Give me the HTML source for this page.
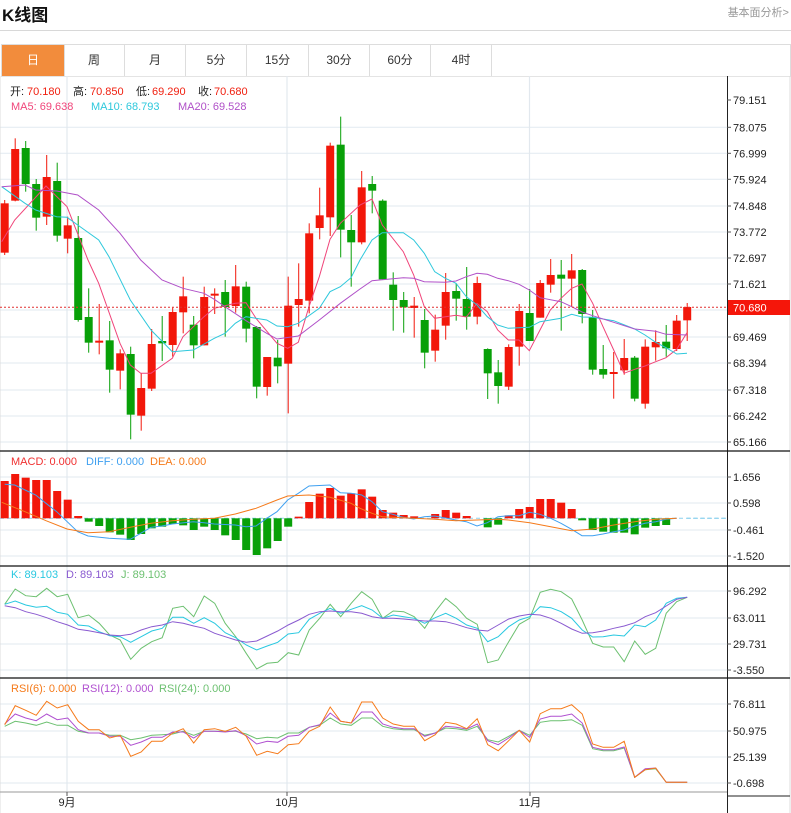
<!DOCTYPE html>
<html><head><meta charset="utf-8">
<style>
body{margin:0;width:791px;height:813px;overflow:hidden;background:#fff;font-family:"Liberation Sans","Noto Sans CJK SC",sans-serif;}
.t{position:absolute;left:2px;top:1px;font-size:17px;font-weight:bold;color:#111;}
.r{position:absolute;right:2px;top:4px;font-size:11px;color:#999;}
.hl{position:absolute;left:0;top:30px;width:791px;height:1px;background:#d8d8d8;}
.tabs{position:absolute;left:1px;top:44px;width:788px;height:31px;border:1px solid #ddd;border-bottom:1px solid #e4e4e4;}
.tab{position:absolute;top:0;height:31px;line-height:31px;text-align:center;font-size:12px;color:#333;border-right:1px solid #ddd;}
svg{position:absolute;left:0;top:0}
</style></head><body>
<div class="t">K线图</div>
<div class="r">基本面分析&gt;</div>
<div class="hl"></div>
<div class="tabs">
<div class="tab" style="left:0;width:62px;background:#f28c3c;color:#fff">日</div>
<div class="tab" style="left:62px;width:60px">周</div>
<div class="tab" style="left:123px;width:60px">月</div>
<div class="tab" style="left:184px;width:60px">5分</div>
<div class="tab" style="left:245px;width:61px">15分</div>
<div class="tab" style="left:307px;width:60px">30分</div>
<div class="tab" style="left:368px;width:60px">60分</div>
<div class="tab" style="left:429px;width:60px">4时</div>
</div>
<svg id="s" width="791" height="813" xmlns="http://www.w3.org/2000/svg" font-family="Liberation Sans, Noto Sans CJK SC, sans-serif"></svg>
<script>
var NS="http://www.w3.org/2000/svg",S=document.getElementById('s'),h='';
function X(i){return 4.7+10.5*i;}
var RED='#f2170a',GRN='#08a008';
// grid
function grid(ys){ys.forEach(function(y){h+='<line x1="0" x2="727" y1="'+y+'" y2="'+y+'" stroke="#e6edf2" stroke-width="1.2"/>';});}
grid([127.3,153.3,179.3,206,232,258,284,310,337,363,390,416,442]);
grid([477,503,530,556]);grid([591,618,644,670]);grid([704,731,757,783]);
[67,287,529.5].forEach(function(x){h+='<line x1="'+x+'" x2="'+x+'" y1="76" y2="792" stroke="#e2e8ee" stroke-width="1.2"/>';});
h+='<line x1="0" x2="0" y1="76" y2="813" stroke="#ddd"/><line x1="790" x2="790" y1="76" y2="813" stroke="#ddd"/>';
// candles [c,bt,bb,wh,wl] zoom coords
var C=[[1,280,428,270,435],[1,117,272,85,274],[0,114,222,93,245],[0,222,323,207,362],[1,201,320,135,345],[0,213,377,158,395],[1,346,386,320,430],[0,384,630,318,635],[0,621,698,535,728],[1,692,698,582,733],[0,691,779,633,848],[1,730,782,718,838],[0,732,914,710,988],[1,834,917,790,962],[1,702,836,657,843],[0,693,700,618,753],[1,606,705,593,740],[1,559,607,500,670],[0,644,706,618,745],[1,561,706,530,706],[1,551,557,535,612],[0,546,591,510,680],[1,529,588,465,608],[0,530,656,515,697],[0,651,830,648,865],[1,741,831,741,857],[0,743,769,690,820],[1,587,761,500,910],[1,567,585,460,650],[1,370,572,340,610],[1,316,354,233,388],[1,107,322,98,378],[0,104,359,20,442],[0,360,397,315,530],[1,232,397,183,403],[0,222,242,198,310],[0,272,508,268,508],[0,524,570,487,662],[0,570,592,546,668],[1,587,594,561,683],[0,630,728,597,775],[1,659,722,614,755],[1,546,647,489,689],[0,543,566,520,632],[0,567,620,471,659],[1,519,620,500,643],[0,717,790,715,867],[0,787,828,750,881],[1,711,830,703,840],[1,603,710,582,767],[0,609,693,537,693],[1,519,623,510,623],[1,495,524,447,548],[0,494,506,450,662],[1,481,506,432,590],[0,480,612,477,640],[0,622,779,600,794],[0,777,794,705,806],[1,786,792,726,866],[1,744,781,687,794],[0,743,866,738,874],[1,710,881,688,896],[1,696,712,661,752],[0,695,715,645,740],[1,632,717,615,723],[1,591,631,579,693]];
C.forEach(function(c,i){var x=X(i),col=c[0]?RED:GRN,f=function(z){return 110+z/3;};
h+='<line x1="'+x+'" x2="'+x+'" y1="'+f(c[3])+'" y2="'+f(c[4])+'" stroke="'+col+'" stroke-width="1"/>';
var t=f(c[1]),b=f(c[2]);if(b-t<1.5)b=t+1.5;
h+='<rect x="'+(x-4)+'" y="'+t+'" width="8" height="'+(b-t)+'" fill="'+col+'"/>';});
function pl(pts,ox,oy,col,w){var s='';pts.forEach(function(p){s+=(ox+p[0]/3).toFixed(1)+','+(oy+p[1]/3).toFixed(1)+' ';});h+='<polyline points="'+s+'" fill="none" stroke="'+col+'" stroke-width="'+(w||1)+'"/>';}
function cat(a,b){return a.concat(b.map(function(p){return [p[0]+1080,p[1]];}));}
pl(cat([[5,395],[44,330],[138,228],[201,290],[264,450],[296,520],[360,700],[391,765],[422,790],[453,790],[517,745],[549,680],[612,620],[643,595],[706,580],[738,578],[768,625],[831,700],[863,715],[895,697],[927,590],[958,500],[990,388],[1021,340],[1080,285]],[[36,267],[67,345],[130,425],[161,495],[193,590],[224,625],[288,616],[319,621],[351,580],[382,605],[413,660],[445,690],[477,690],[508,722],[540,660],[571,600],[603,565],[635,535],[666,522],[698,580],[729,650],[761,720],[792,790],[824,778],[855,768],[887,755],[918,743],[950,718],[981,668]]),0,110,'#f0457a');
pl(cat([[5,230],[75,280],[107,300],[170,320],[201,322],[233,345],[296,390],[327,440],[391,570],[453,660],[517,725],[580,720],[643,685],[675,670],[706,640],[738,620],[800,630],[831,648],[863,650],[895,640],[958,595],[990,545],[1021,530],[1053,503],[1080,450]],[[36,390],[67,368],[130,368],[161,390],[193,430],[224,485],[256,505],[288,520],[319,560],[351,585],[382,620],[413,645],[445,655],[508,652],[540,635],[603,625],[635,613],[666,621],[698,622],[761,632],[824,657],[855,675],[887,697],[918,713],[950,732],[981,730]]),0,110,'#2ec8dc');
pl(cat([[5,230],[75,225],[107,240],[170,243],[233,255],[296,300],[360,370],[422,450],[486,510],[549,535],[612,550],[643,568],[675,590],[738,632],[800,670],[831,687],[895,678],[958,630],[1021,580],[1080,537]],[[36,512],[67,509],[130,503],[161,505],[193,515],[256,517],[288,513],[319,500],[351,490],[382,493],[413,505],[445,512],[477,523],[508,540],[540,563],[603,575],[635,590],[666,606],[698,617],[761,637],[824,657],[887,664],[918,673],[981,675]]),0,110,'#b050c8');
h+='<line x1="0" x2="727" y1="307.3" y2="307.3" stroke="#e03030" stroke-width="1" stroke-dasharray="2,2"/>';
// MACD bars
var M=[93,72,83,90,90,123,149,198,215,228,247,254,270,252,235,230,222,226,240,230,240,256,270,300,315,295,273,230,200,156,131,114,137,130,118,140,180,188,195,199,205,192,180,188,198,205,232,224,196,177,171,147,147,158,177,211,240,245,248,248,253,233,228,225,205,205];
h+='<line x1="0" x2="727" y1="518.3" y2="518.3" stroke="#8ad0ee" stroke-width="1" stroke-dasharray="4,3"/>';
M.forEach(function(z,i){var y=450+z/3,z0=518.3;if(Math.abs(y-z0)<0.6)return;var t=Math.min(y,z0),b=Math.max(y,z0);h+='<rect x="'+(X(i)-4)+'" y="'+t+'" width="8" height="'+(b-t)+'" fill="'+(y<z0?RED:GRN)+'"/>';});
pl(cat([[14,103],[44,105],[107,135],[138,160],[170,185],[233,245],[264,258],[327,265],[391,268],[422,250],[453,232],[486,228],[517,222],[580,215],[612,218],[643,222],[706,225],[738,230],[768,228],[800,205],[831,185],[863,150],[895,130],[927,108],[990,105],[1021,128],[1053,130],[1085,135]],[[36,155],[67,185],[98,193],[130,202],[161,207],[193,200],[224,198],[288,210],[319,215],[351,228],[382,218],[414,200],[445,197],[477,197],[509,187],[540,193],[572,205],[603,220],[635,238],[666,257],[698,257],[729,252],[761,245],[792,240],[824,228],[855,220],[887,215],[918,208],[950,205]]),0,450,'#3fa0f0');
pl(cat([[5,157],[75,185],[138,212],[201,237],[264,248],[327,245],[391,232],[453,220],[517,212],[580,208],[643,205],[706,192],[768,175],[831,150],[863,138],[927,135],[990,142],[1053,160],[1080,175]],[[36,190],[67,200],[161,205],[224,208],[288,212],[351,210],[414,208],[445,210],[509,218],[572,230],[635,242],[698,237],[761,225],[824,215],[887,208],[950,205]]),0,450,'#f57a1a');
h+='<line x1="687" x2="727" y1="518.3" y2="518.3" stroke="#8ad0ee" stroke-dasharray="4,3"/>';
function idx(a,oy,col){var s='';a.forEach(function(z,i){s+=X(i).toFixed(1)+','+(oy+z/3).toFixed(1)+' ';});h+='<polyline points="'+s+'" fill="none" stroke="'+col+'" stroke-width="1"/>';}
idx([118,72,92,95,70,95,88,158,150,175,210,225,283,250,230,218,130,124,155,93,115,175,215,265,312,295,292,263,270,195,160,118,155,115,80,103,160,138,140,155,190,140,100,125,160,178,293,285,230,178,160,82,73,80,102,165,235,246,246,290,228,268,250,145,110,97],565,'#6cc070');
idx([118,108,120,127,124,142,148,180,183,200,212,215,232,215,198,190,157,157,175,158,175,203,218,240,255,243,232,207,203,163,145,130,145,133,122,135,160,150,155,160,175,158,145,160,180,190,230,215,185,165,155,125,128,140,160,195,216,215,210,213,180,185,165,115,100,97],565,'#28c8e0');
idx([122,128,140,148,158,170,180,193,197,203,210,212,208,195,185,180,170,175,183,190,205,215,225,232,228,213,198,180,165,148,140,138,140,140,145,155,160,160,162,165,168,168,170,178,188,195,198,180,162,153,148,150,160,175,192,205,203,198,190,183,173,155,143,123,103,97],565,'#8a5ad0');
idx([145,130,135,142,132,142,142,160,165,165,172,172,185,180,172,170,168,160,172,160,160,160,160,168,182,178,180,165,165,148,142,120,138,142,120,120,145,152,155,155,172,165,150,152,157,145,185,192,175,157,172,133,128,128,125,142,212,218,218,210,298,275,272,313,313,313],678,'#6cc070');
idx([138,108,120,128,108,125,120,155,165,165,175,175,202,192,178,178,162,162,180,160,160,162,158,173,198,190,193,175,172,148,140,105,130,135,102,102,138,148,152,152,175,165,145,148,153,138,188,200,180,157,178,123,115,115,108,135,208,215,215,207,298,272,270,313,313,313],678,'#b050d0');
idx([140,83,97,112,70,90,80,130,155,155,180,172,235,222,190,190,165,152,195,155,152,160,148,175,232,220,227,200,197,160,145,87,130,135,72,72,120,138,145,145,188,170,133,138,152,122,200,218,188,157,192,107,92,92,80,108,198,208,208,190,298,275,270,313,313,313],678,'#f57a1a');
// frames
h+='<line x1="727.5" x2="727.5" y1="76" y2="813" stroke="#222"/>';
[451,566,678].forEach(function(y){h+='<line x1="0" x2="790" y1="'+y+'" y2="'+y+'" stroke="#111" stroke-width="1.3"/>';});
h+='<line x1="0" x2="727" y1="792" y2="792" stroke="#999"/><line x1="727" x2="790" y1="796" y2="796" stroke="#222"/>';
function lab(y,t){h+='<line x1="727" x2="731" y1="'+y+'" y2="'+y+'" stroke="#555"/><text x="733" y="'+(y+4)+'" font-size="11" fill="#222">'+t+'</text>';}
[[100,'79.151'],[127.3,'78.075'],[153.3,'76.999'],[179.3,'75.924'],[206,'74.848'],[232,'73.772'],[258,'72.697'],[284,'71.621'],[337,'69.469'],[363,'68.394'],[390,'67.318'],[416,'66.242'],[442,'65.166'],[477,'1.656'],[503,'0.598'],[530,'-0.461'],[556,'-1.520'],[591,'96.292'],[618,'63.011'],[644,'29.731'],[670,'-3.550'],[704,'76.811'],[731,'50.975'],[757,'25.139'],[783,'-0.698']].forEach(function(a){lab(a[0],a[1]);});
h+='<rect x="728" y="300" width="62" height="15" fill="#f5160a"/><text x="733" y="311.5" font-size="11" fill="#fff">70.680</text>';
[[67,'9月'],[287,'10月'],[530,'11月']].forEach(function(a){h+='<line x1="'+a[0]+'" x2="'+a[0]+'" y1="792" y2="796" stroke="#555"/><text x="'+a[0]+'" y="806" font-size="11" fill="#222" text-anchor="middle">'+a[1]+'</text>';});
// legends
function tx(x,y,t,c){h+='<text x="'+x+'" y="'+y+'" font-size="11" fill="'+c+'">'+t+'</text>';}
tx(10,95,'开:','#222');tx(27,95,'70.180','#f02010');tx(73,95,'高:','#222');tx(90,95,'70.850','#f02010');tx(136,95,'低:','#222');tx(152,95,'69.290','#f02010');tx(198,95,'收:','#222');tx(214,95,'70.680','#f02010');
tx(11,110,'MA5: 69.638','#f0457a');tx(91,110,'MA10: 68.793','#2ec8dc');tx(178,110,'MA20: 69.528','#b050c8');
tx(11,465,'MACD: 0.000','#f03030');tx(86,465,'DIFF: 0.000','#3fa0f0');tx(150,465,'DEA: 0.000','#f57a1a');
tx(11,578,'K: 89.103','#28c8e0');tx(66,578,'D: 89.103','#8a5ad0');tx(121,578,'J: 89.103','#6cc070');
tx(11,692,'RSI(6): 0.000','#f57a1a');tx(82,692,'RSI(12): 0.000','#b050d0');tx(159,692,'RSI(24): 0.000','#6cc070');
S.innerHTML=h;
</script>
</body></html>
